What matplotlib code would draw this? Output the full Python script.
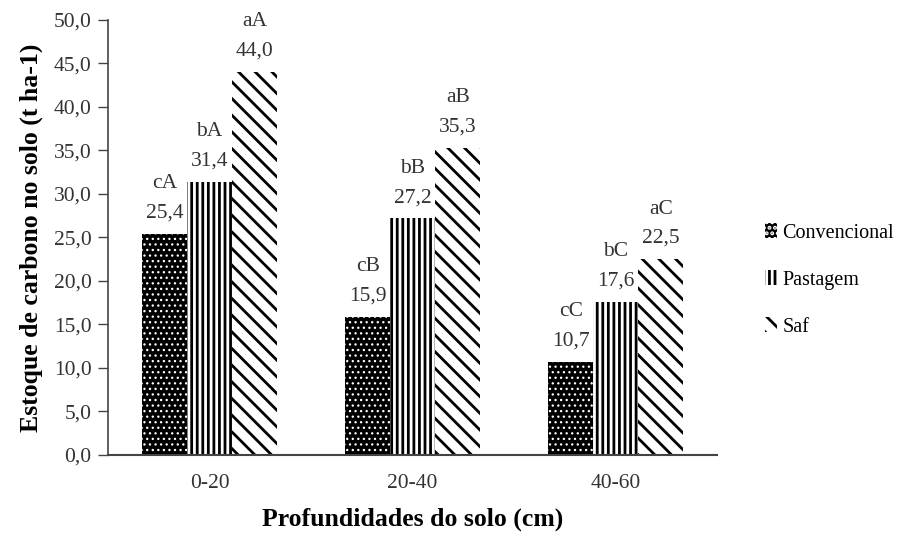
import numpy as np
import matplotlib.pyplot as plt

plt.rcParams['font.family'] = ['Liberation Serif', 'DejaVu Serif']
plt.rcParams['hatch.linewidth'] = 2.0

depths = ['0-20', '20-40', '40-60']
series = ['Convencional', 'Pastagem', 'Saf']
convencional = [25.4, 15.9, 10.7]
pastagem = [31.4, 27.2, 17.6]
saf = [44.0, 35.3, 22.5]
letters_conv = ['cA', 'cB', 'cC']
letters_past = ['bA', 'bB', 'bC']
letters_saf = ['aA', 'aB', 'aC']

fig = plt.figure(figsize=(9.09, 5.34), dpi=100)
ax = fig.add_axes([0.119, 0.148, 0.670, 0.815])

x = np.arange(len(depths))
w = 0.222

styles = [
    dict(facecolor='black', edgecolor='white', hatch='...', linewidth=0),
    dict(facecolor='white', edgecolor='black', hatch='|||', linewidth=0),
    dict(facecolor='white', edgecolor='black', hatch='\\\\', linewidth=0),
]
hatch_lw = [0.9, 2.0, 2.0]
values = [convencional, pastagem, saf]
letters = [letters_conv, letters_past, letters_saf]

for i, (vals, lets, st) in enumerate(zip(values, letters, styles)):
    pos = x + (i - 1) * w
    with plt.rc_context({'hatch.linewidth': hatch_lw[i]}):
        bars = ax.bar(pos, vals, w, label=series[i], **st)
    for b in bars:
        if hasattr(b, 'set_hatch_linewidth'):
            b.set_hatch_linewidth(hatch_lw[i])
    for p, v, l in zip(pos, vals, lets):
        txt = l + '\n' + f'{v:.1f}'.replace('.', ',')
        ax.annotate(txt, (p, v), xytext=(0, 8), textcoords='offset points',
                    ha='center', va='bottom', fontsize=15.5, color='#333333',
                    linespacing=1.75)

ax.set_xlim(-0.5, 2.5)
ax.set_ylim(0, 50)
ticks = np.arange(0, 50.1, 5)
ax.set_yticks(ticks)
ax.set_yticklabels([f'{t:.1f}'.replace('.', ',') for t in ticks])
ax.set_xticks(x)
ax.set_xticklabels(depths)
ax.tick_params(axis='x', length=0, pad=14, labelsize=15.5, labelcolor='#333333')
ax.tick_params(axis='y', length=7, width=1, direction='out', pad=5, labelsize=15.5,
               labelcolor='#333333', color='#444444')
for s in ['top', 'right']:
    ax.spines[s].set_visible(False)
ax.spines['left'].set_color('#444444')
ax.spines['bottom'].set_color('#444444')
ax.spines['left'].set_linewidth(1.2)
ax.spines['bottom'].set_linewidth(1.5)

ax.set_ylabel('Estoque de carbono no solo (t ha-1)', fontsize=18.5, fontweight='bold', labelpad=8)
ax.set_xlabel('Profundidades do solo (cm)', fontsize=18.5, fontweight='bold', labelpad=10)

fig.legend(loc='center left', bbox_to_anchor=(0.822, 0.476), frameon=False,
           fontsize=14.5, handlelength=0.6, handleheight=0.8, handletextpad=0.25,
           labelspacing=1.35)

fig.savefig('out.png', dpi=100)
